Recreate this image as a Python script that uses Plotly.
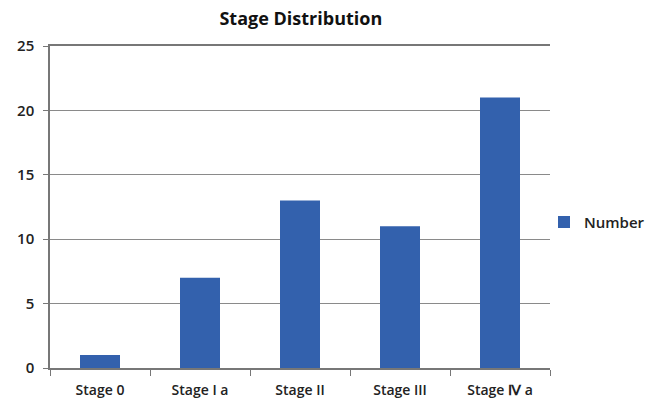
import plotly.graph_objects as go

categories = ["Stage 0", "Stage I a", "Stage II", "Stage III", "Stage Ⅳ a"]
values = [1, 7, 13, 11, 21]
series_name = "Number"
y_ticks = [0, 5, 10, 15, 20, 25]

fig = go.Figure()
fig.add_trace(go.Bar(x=categories, y=values, name=series_name,
                     marker=dict(color="#3361ad", line=dict(width=0))))

fig.update_layout(
    width=654, height=411,
    margin=dict(l=50, r=104, t=46, b=43, autoexpand=False),
    paper_bgcolor="white", plot_bgcolor="white",
    bargap=0.6,
    showlegend=True,
    title=dict(text="<b>Stage Distribution</b>", x=0.46, xanchor="center",
               y=0.955, yanchor="middle",
               font=dict(family="Open Sans, sans-serif", size=18, color="#111")),
    legend=dict(x=0.988, xanchor="left", y=0.453, yanchor="middle",
                font=dict(family="Open Sans, sans-serif", size=15, color="#222", weight=600),
                itemwidth=30, bgcolor="rgba(0,0,0,0)"),
    font=dict(family="Open Sans, sans-serif", size=14, color="#222"),
)
fig.update_xaxes(type="category", showline=True, linecolor="#777", linewidth=1.5,
                 mirror=True,
                 ticks="outside", tickson="boundaries", ticklen=6, tickcolor="#777",
                 ticklabelstandoff=8,
                 showgrid=False, tickfont=dict(size=14, color="#222", weight=600))
fig.update_yaxes(range=[0, 25], tickvals=y_ticks, showline=True, linecolor="#777",
                 linewidth=1.5, ticks="outside", ticklen=5, tickcolor="#777",
                 ticklabelstandoff=6,
                 showgrid=True, gridcolor="#8a8a8a", gridwidth=1.2, zeroline=False,
                 tickfont=dict(size=15, color="#222", weight=600))

fig.write_html("out.html")
